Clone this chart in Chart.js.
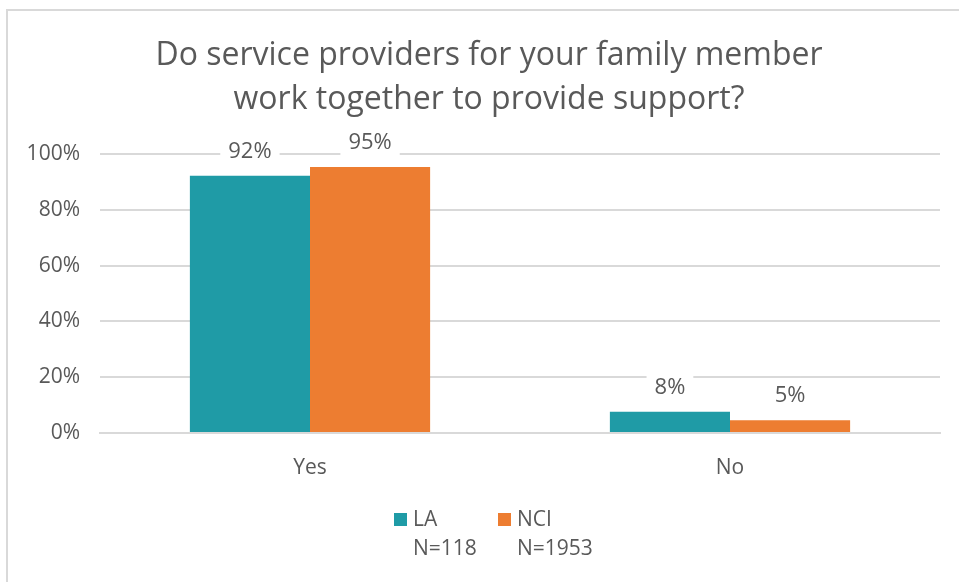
<!DOCTYPE html>
<html>
<head>
<meta charset="utf-8">
<script src="https://cdn.jsdelivr.net/npm/chart.js@4"></script>
<style>
  html, body { margin: 0; padding: 0; background: #fff; }
  #wrap { position: relative; width: 959px; height: 582px; overflow: hidden; font-family: "Open Sans", sans-serif; color: #595959; }
  #frame { position: absolute; left: 6px; top: 9px; width: 960px; height: 580px; border-top: 2px solid #d9d9d9; border-left: 2px solid #d9d9d9; }
  #title { position: absolute; left: 289px; width: 400px; top: 31px; text-align: center; font-size: 32px; line-height: 44px; white-space: nowrap; display: flex; flex-direction: column; align-items: center; }
  #chart { position: absolute; left: 0; top: 0; }
  .leg { position: absolute; top: 504px; font-size: 21px; line-height: 29px; }
  .sw { position: absolute; width: 13px; height: 13px; top: 513px; }
</style>
</head>
<body>
<div id="wrap">
  <div id="frame"></div>
  <canvas id="chart" width="959" height="582"></canvas>
  <div id="title"><span>Do service providers for your family member</span><span>work together to provide support?</span></div>
  <div class="sw" id="sw0" style="left:394px"></div>
  <div class="leg" id="leg0" style="left:413px"></div>
  <div class="sw" id="sw1" style="left:498px"></div>
  <div class="leg" id="leg1" style="left:517px"></div>
</div>
<script>
// values (fractions of 1)
const CATEGORIES = ["Yes", "No"];
const SERIES_NAMES = ["LA", "NCI"];
const SERIES_N = ["N=118", "N=1953"];
const LA_VALUES = [0.922, 0.076];
const NCI_VALUES = [0.953, 0.046];
const Y_TICKS = [0, 0.2, 0.4, 0.6, 0.8, 1];

const TEAL = "#1f9ba6";
const ORANGE = "#ed7d31";
const GREY_TEXT = "#595959";
const GRID = "#d9d9d9";
const FONT = "'Open Sans', sans-serif";

const pct = (v) => Math.round(v * 100) + "%";

// legend is plain html so each entry can carry its N on a second line
[TEAL, ORANGE].forEach((c, i) => {
  document.getElementById("sw" + i).style.background = c;
  document.getElementById("leg" + i).innerHTML = SERIES_NAMES[i] + "<br>" + SERIES_N[i];
});

// value labels above each bar, on a white box that hides the gridline
const barLabels = {
  id: "barLabels",
  afterDatasetsDraw(chart) {
    const ctx = chart.ctx;
    ctx.save();
    ctx.font = "22px " + FONT;
    ctx.textAlign = "center";
    ctx.textBaseline = "middle";
    chart.data.datasets.forEach((ds, di) => {
      chart.getDatasetMeta(di).data.forEach((bar, i) => {
        const txt = pct(ds.data[i]);
        const y = bar.y - 25;
        const w = ctx.measureText(txt).width + 16;
        ctx.fillStyle = "#fff";
        ctx.fillRect(bar.x - w / 2, y - 13, w, 26);
        ctx.fillStyle = GREY_TEXT;
        ctx.fillText(txt, bar.x, y + 1);
      });
    });
    ctx.restore();
  },
};

new Chart(document.getElementById("chart"), {
  type: "bar",
  data: {
    labels: CATEGORIES,
    datasets: [
      { label: SERIES_NAMES[0], data: LA_VALUES, backgroundColor: TEAL },
      { label: SERIES_NAMES[1], data: NCI_VALUES, backgroundColor: ORANGE },
    ],
  },
  options: {
    responsive: false,
    animation: false,
    events: [],
    layout: { padding: { left: 10, right: 19, top: 154, bottom: 0 } },
    datasets: { bar: { categoryPercentage: 0.572, barPercentage: 1, borderWidth: 0 } },
    plugins: { legend: { display: false }, tooltip: { enabled: false }, title: { display: false } },
    scales: {
      x: {
        grid: { display: false },
        border: { color: GRID, width: 2 },
        ticks: { color: GREY_TEXT, font: { family: FONT, size: 21 }, padding: 14 },
        afterFit(s) { s.height = 149; },
      },
      y: {
        min: 0,
        max: 1,
        afterBuildTicks(s) { s.ticks = Y_TICKS.map((v) => ({ value: v })); },
        grid: { color: GRID, lineWidth: 2, drawTicks: false },
        border: { display: false },
        ticks: { color: GREY_TEXT, font: { family: FONT, size: 21 }, padding: 20, callback: (v) => pct(v) },
        afterFit(s) { s.width = 90; },
      },
    },
  },
  plugins: [barLabels],
});
</script>
</body>
</html>
